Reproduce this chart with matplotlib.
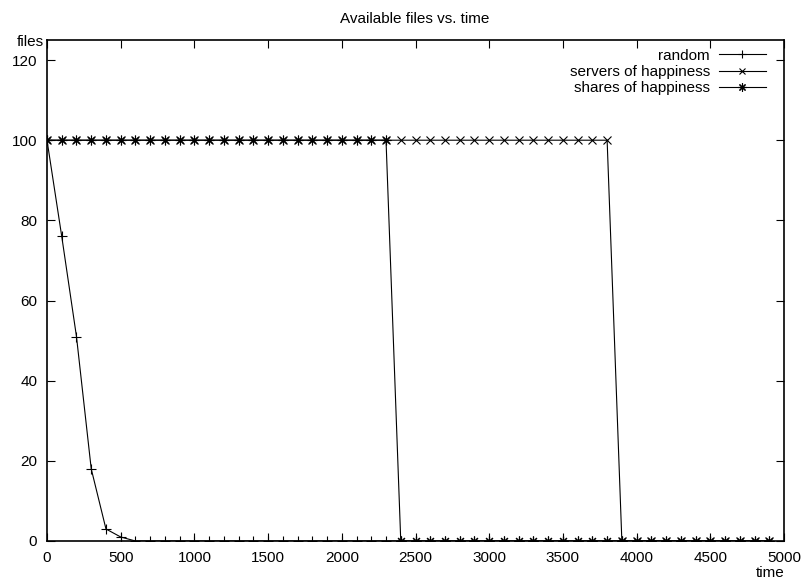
import numpy as np
import matplotlib.pyplot as plt

plt.rcParams['font.family'] = ['Liberation Sans', 'DejaVu Sans']

# datos (tiempo cada 100)
time = np.arange(0, 5000, 100)
random_files = [100, 76, 51, 18, 3, 1] + [0] * (len(time) - 6)
servers_happy = [100] * 39 + [0] * (len(time) - 39)   # cae despues de 3800
shares_happy = [100] * 24 + [0] * (len(time) - 24)    # cae despues de 2300

fig = plt.figure(figsize=(8.08, 5.81), dpi=100)
ax = fig.add_axes([47 / 808, 40 / 581, 737 / 808, 501 / 581])

ax.plot(time, random_files, color='black', linewidth=0.8, marker='+',
        markersize=7, markeredgewidth=0.8, label='random')
ax.plot(time, servers_happy, color='black', linewidth=0.8, marker='x',
        markersize=5.5, markeredgewidth=0.8, label='servers of happiness')
ax.plot(time, shares_happy, color='black', linewidth=0.8, marker=(8, 2, 0),
        markersize=7, markeredgewidth=0.8, label='shares of happiness')

ax.set_xlim(0, 5000)
ax.set_ylim(0, 125)
ax.set_xticks(np.arange(0, 5001, 500))
ax.set_yticks(np.arange(0, 121, 20))
ax.tick_params(direction='in', length=6, width=0.8, top=True, right=True,
               labelsize=11, pad=7)
for s in ax.spines.values():
    s.set_linewidth(1.2)

fig.text(0.513, 0.968, 'Available files vs. time', ha='center', va='center', fontsize=11)
fig.text(30 / 808, 1 - 42 / 581, 'files', ha='center', va='center', fontsize=11)
fig.text(770 / 808, 1 - 573 / 581, 'time', ha='center', va='center', fontsize=11)

leg = ax.legend(loc='upper right', bbox_to_anchor=(0.9837, 0.995), frameon=False,
                fontsize=11, markerfirst=False, handlelength=3.1, handletextpad=0.55,
                labelspacing=0.15, borderaxespad=0, markerscale=0.85)
for t in leg.get_texts():
    t.set_ha('right')

plt.savefig('out.png', dpi=100)
